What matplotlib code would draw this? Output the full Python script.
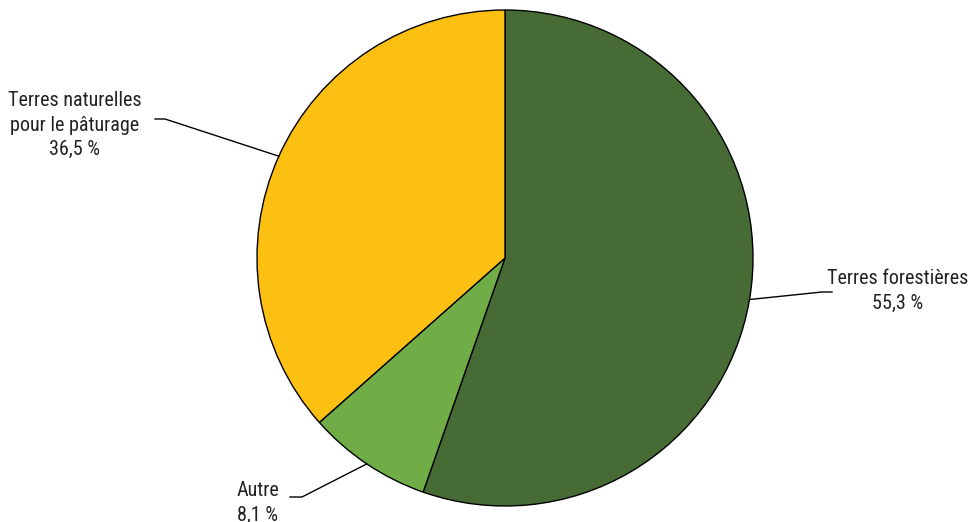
import numpy as np
import matplotlib.pyplot as plt

labels = ['Terres forestières', 'Autre', 'Terres naturelles\npour le pâturage']
values = [55.3, 8.1, 36.5]
value_labels = ['55,3 %', '8,1 %', '36,5 %']
colors = ['#466B34', '#70AD47', '#FBC012']

plt.rcParams['font.family'] = ['Roboto Condensed', 'DejaVu Sans']

fig = plt.figure(figsize=(9.7, 5.22), dpi=100)
ax = fig.add_axes([0, 0, 1, 1])

cx, cy, r = 505, 264, 248
wedges, _ = ax.pie(values, colors=colors, startangle=90, counterclock=False,
                   center=(cx, cy), radius=r, frame=True,
                   wedgeprops=dict(edgecolor='black', linewidth=1))
ax.set_xlim(0, 970)
ax.set_ylim(0, 522)
ax.set_aspect('equal')
ax.axis('off')

# label placement: (elbow start, elbow end, text xy)
layout = [
    ((822, 230), (832, 230), (898, 231)),
    ((302, 25), (290, 25), (258, 19)),
    ((165, 403), (155, 403), (75, 397)),
]

for w, lab, vl, (e1, e2, txy) in zip(wedges, labels, value_labels, layout):
    mid = np.deg2rad((w.theta1 + w.theta2) / 2)
    px, py = cx + r * np.cos(mid), cy + r * np.sin(mid)
    ax.plot([px, e1[0], e2[0]], [py, e1[1], e2[1]], color='black', lw=1)
    ax.text(txy[0], txy[1], lab + '\n' + vl, ha='center', va='center',
            fontsize=14.5, color='#222222', linespacing=1.35)

fig.savefig('out.png', dpi=100)
